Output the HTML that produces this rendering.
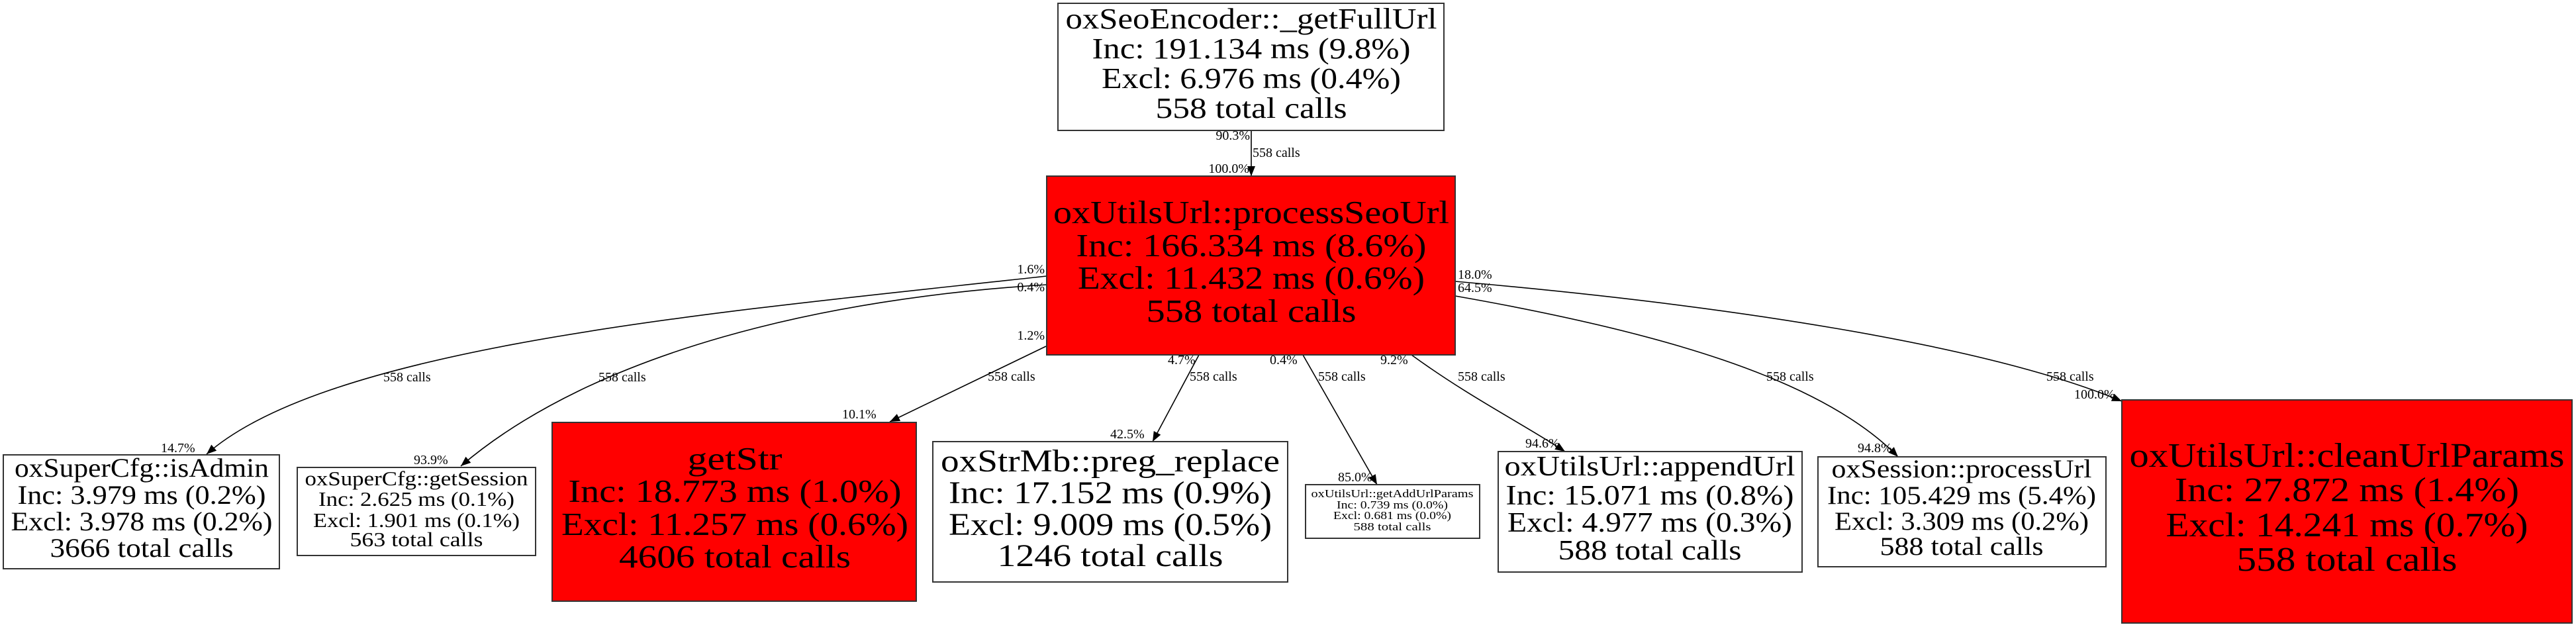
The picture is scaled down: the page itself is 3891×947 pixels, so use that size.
<!DOCTYPE html>
<html><head><meta charset="utf-8"><style>
html,body{margin:0;padding:0;background:#fff;}
svg{display:block;}
text{font-family:"Liberation Serif",serif;fill:#000;}
</style></head><body>
<svg width="3891" height="947" viewBox="0 0 3891 947" xmlns="http://www.w3.org/2000/svg">
<defs>
<marker id="a" markerUnits="userSpaceOnUse" markerWidth="16" markerHeight="14" refX="15" refY="7" orient="auto">
<path d="M0,1 L15,7 L0,13 Z" fill="#000"/>
</marker>
</defs>
<rect width="3891" height="947" fill="#fff"/>
<g fill="none" stroke="#000" stroke-width="1.6" marker-end="url(#a)">
<path d="M1890,197 L1890,266"/>
<path d="M1581,417 C1100,470 500,520 312,686"/>
<path d="M1581,430 C1250,450 900,530 696,704"/>
<path d="M1580,523 L1344,637"/>
<path d="M1811,536 L1741,667"/>
<path d="M1968,536 L2080,732"/>
<path d="M2132,536 C2220,600 2300,640 2364,682"/>
<path d="M2198,447 C2500,500 2750,570 2867,690"/>
<path d="M2198,425 C2600,460 3000,520 3205,606"/>
</g>
<g stroke="#333" stroke-width="2">
<rect x="1598" y="5" width="583" height="192" fill="#fff"/>
<rect x="1581" y="266" width="617" height="270" fill="#ff0000"/>
<rect x="5" y="687" width="417" height="172" fill="#fff"/>
<rect x="449" y="706" width="360" height="133" fill="#fff"/>
<rect x="834" y="638" width="550" height="270" fill="#ff0000"/>
<rect x="1409" y="667" width="536" height="212" fill="#fff"/>
<rect x="1972" y="732" width="263" height="81" fill="#fff"/>
<rect x="2263" y="682" width="459" height="182" fill="#fff"/>
<rect x="2746" y="690" width="435" height="166" fill="#fff"/>
<rect x="3205" y="604" width="680" height="337" fill="#ff0000"/>
</g>
<g text-anchor="middle" lengthAdjust="spacingAndGlyphs">
<!-- top -->
<text x="1890" y="43" font-size="44" textLength="561" lengthAdjust="spacingAndGlyphs">oxSeoEncoder::_getFullUrl</text>
<text x="1890" y="88" font-size="44" textLength="481" lengthAdjust="spacingAndGlyphs">Inc: 191.134 ms (9.8%)</text>
<text x="1890" y="133" font-size="44" textLength="452" lengthAdjust="spacingAndGlyphs">Excl: 6.976 ms (0.4%)</text>
<text x="1890" y="178" font-size="44" textLength="289" lengthAdjust="spacingAndGlyphs">558 total calls</text>
<!-- processSeoUrl -->
<text x="1890" y="337" font-size="49" textLength="598" lengthAdjust="spacingAndGlyphs">oxUtilsUrl::processSeoUrl</text>
<text x="1890" y="387" font-size="49" textLength="529" lengthAdjust="spacingAndGlyphs">Inc: 166.334 ms (8.6%)</text>
<text x="1890" y="436" font-size="49" textLength="524" lengthAdjust="spacingAndGlyphs">Excl: 11.432 ms (0.6%)</text>
<text x="1890" y="486" font-size="49" textLength="317" lengthAdjust="spacingAndGlyphs">558 total calls</text>
<!-- isAdmin -->
<text x="214" y="720" font-size="40" textLength="384" lengthAdjust="spacingAndGlyphs">oxSuperCfg::isAdmin</text>
<text x="214" y="761" font-size="40" textLength="375" lengthAdjust="spacingAndGlyphs">Inc: 3.979 ms (0.2%)</text>
<text x="214" y="801" font-size="40" textLength="395" lengthAdjust="spacingAndGlyphs">Excl: 3.978 ms (0.2%)</text>
<text x="214" y="841" font-size="40" textLength="277" lengthAdjust="spacingAndGlyphs">3666 total calls</text>
<!-- getSession -->
<text x="629" y="733" font-size="31" textLength="337" lengthAdjust="spacingAndGlyphs">oxSuperCfg::getSession</text>
<text x="629" y="764" font-size="31" textLength="296" lengthAdjust="spacingAndGlyphs">Inc: 2.625 ms (0.1%)</text>
<text x="629" y="796" font-size="31" textLength="312" lengthAdjust="spacingAndGlyphs">Excl: 1.901 ms (0.1%)</text>
<text x="629" y="825" font-size="31" textLength="201" lengthAdjust="spacingAndGlyphs">563 total calls</text>
<!-- getStr -->
<text x="1110" y="709" font-size="49" textLength="143" lengthAdjust="spacingAndGlyphs">getStr</text>
<text x="1110" y="758" font-size="49" textLength="503" lengthAdjust="spacingAndGlyphs">Inc: 18.773 ms (1.0%)</text>
<text x="1110" y="808" font-size="49" textLength="524" lengthAdjust="spacingAndGlyphs">Excl: 11.257 ms (0.6%)</text>
<text x="1110" y="857" font-size="49" textLength="350" lengthAdjust="spacingAndGlyphs">4606 total calls</text>
<!-- preg_replace -->
<text x="1677" y="712" font-size="48" textLength="512" lengthAdjust="spacingAndGlyphs">oxStrMb::preg_replace</text>
<text x="1677" y="760" font-size="48" textLength="488" lengthAdjust="spacingAndGlyphs">Inc: 17.152 ms (0.9%)</text>
<text x="1677" y="808" font-size="48" textLength="488" lengthAdjust="spacingAndGlyphs">Excl: 9.009 ms (0.5%)</text>
<text x="1677" y="855" font-size="48" textLength="341" lengthAdjust="spacingAndGlyphs">1246 total calls</text>
<!-- getAddUrlParams -->
<text x="2103" y="751" font-size="17" textLength="245" lengthAdjust="spacingAndGlyphs">oxUtilsUrl::getAddUrlParams</text>
<text x="2103" y="768" font-size="17" textLength="168" lengthAdjust="spacingAndGlyphs">Inc: 0.739 ms (0.0%)</text>
<text x="2103" y="784" font-size="17" textLength="178" lengthAdjust="spacingAndGlyphs">Excl: 0.681 ms (0.0%)</text>
<text x="2103" y="801" font-size="17" textLength="117" lengthAdjust="spacingAndGlyphs">588 total calls</text>
<!-- appendUrl -->
<text x="2492" y="718" font-size="42" textLength="439" lengthAdjust="spacingAndGlyphs">oxUtilsUrl::appendUrl</text>
<text x="2492" y="762" font-size="42" textLength="435" lengthAdjust="spacingAndGlyphs">Inc: 15.071 ms (0.8%)</text>
<text x="2492" y="803" font-size="42" textLength="430" lengthAdjust="spacingAndGlyphs">Excl: 4.977 ms (0.3%)</text>
<text x="2492" y="845" font-size="42" textLength="277" lengthAdjust="spacingAndGlyphs">588 total calls</text>
<!-- processUrl -->
<text x="2963" y="721" font-size="39" textLength="393" lengthAdjust="spacingAndGlyphs">oxSession::processUrl</text>
<text x="2963" y="761" font-size="39" textLength="406" lengthAdjust="spacingAndGlyphs">Inc: 105.429 ms (5.4%)</text>
<text x="2963" y="800" font-size="39" textLength="384" lengthAdjust="spacingAndGlyphs">Excl: 3.309 ms (0.2%)</text>
<text x="2963" y="838" font-size="39" textLength="247" lengthAdjust="spacingAndGlyphs">588 total calls</text>
<!-- cleanUrlParams -->
<text x="3545" y="705" font-size="52" textLength="657" lengthAdjust="spacingAndGlyphs">oxUtilsUrl::cleanUrlParams</text>
<text x="3545" y="757" font-size="52" textLength="520" lengthAdjust="spacingAndGlyphs">Inc: 27.872 ms (1.4%)</text>
<text x="3545" y="810" font-size="52" textLength="547" lengthAdjust="spacingAndGlyphs">Excl: 14.241 ms (0.7%)</text>
<text x="3545" y="862" font-size="52" textLength="333" lengthAdjust="spacingAndGlyphs">558 total calls</text>
</g>
<g font-size="20">
<text x="1888" y="211" text-anchor="end">90.3%</text>
<text x="1892" y="237">558 calls</text>
<text x="1887" y="261" text-anchor="end">100.0%</text>

<text x="1578" y="413" text-anchor="end">1.6%</text>
<text x="1578" y="440" text-anchor="end">0.4%</text>
<text x="1578" y="513" text-anchor="end">1.2%</text>
<text x="1764" y="550">4.7%</text>
<text x="1918" y="550">0.4%</text>
<text x="2085" y="550">9.2%</text>
<text x="2202" y="421">18.0%</text>
<text x="2202" y="441">64.5%</text>

<text x="579" y="576">558 calls</text>
<text x="904" y="576">558 calls</text>
<text x="1492" y="575">558 calls</text>
<text x="1797" y="575">558 calls</text>
<text x="1991" y="575">558 calls</text>
<text x="2202" y="575">558 calls</text>
<text x="2668" y="575">558 calls</text>
<text x="3091" y="575">558 calls</text>

<text x="243" y="683">14.7%</text>
<text x="625" y="701">93.9%</text>
<text x="1272" y="632">10.1%</text>
<text x="1677" y="662">42.5%</text>
<text x="2021" y="727">85.0%</text>
<text x="2304" y="676">94.6%</text>
<text x="2806" y="683">94.8%</text>
<text x="3133" y="602">100.0%</text>
</g>
</svg>
</body></html>
